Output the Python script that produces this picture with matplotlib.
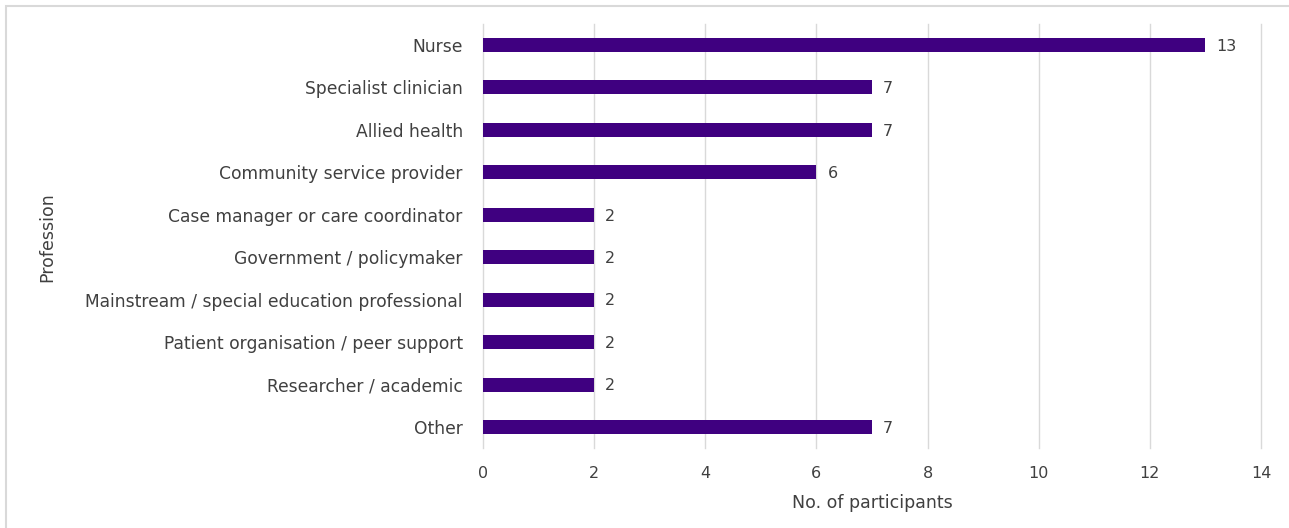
import matplotlib
matplotlib.use("Agg")
import matplotlib.pyplot as plt
from matplotlib.patches import Rectangle

professions = [
    "Nurse",
    "Specialist clinician",
    "Allied health",
    "Community service provider",
    "Case manager or care coordinator",
    "Government / policymaker",
    "Mainstream / special education professional",
    "Patient organisation / peer support",
    "Researcher / academic",
    "Other",
]
participants = [13, 7, 7, 6, 2, 2, 2, 2, 2, 7]
x_ticks = [0, 2, 4, 6, 8, 10, 12, 14]

plt.rcParams["font.family"] = ["DejaVu Sans"]
text_color = "#404040"
bar_color = "#3f0080"

fig = plt.figure(figsize=(12.89, 5.28), dpi=100)
ax = fig.add_axes([0.3747, 0.1511, 0.6036, 0.8038])

# outer frame (top and left edges visible)
fig.patches.append(Rectangle((6 / 1289, -0.1), 1.2, 1 - 6 / 528 + 0.1,
                             transform=fig.transFigure, fill=False,
                             edgecolor="#d9d9d9", linewidth=1.5))

ypos = list(range(len(professions)))
ax.barh(ypos, participants, height=0.33, color=bar_color, zorder=3)
for y, v in zip(ypos, participants):
    ax.text(v + 0.2, y + 0.03, str(v), va="center", ha="left", fontsize=11.5,
            color=text_color)

ax.set_xlim(0, 14)
ax.set_ylim(len(professions) - 0.5, -0.5)
ax.set_yticks(ypos)
ax.set_yticklabels(professions, fontsize=12.3, color=text_color)
ax.set_xticks(x_ticks)
ax.set_xticklabels([str(t) for t in x_ticks], fontsize=11.5, color=text_color)
ax.tick_params(axis="both", length=0)
ax.tick_params(axis="y", pad=14.5)
ax.tick_params(axis="x", pad=13)
ax.grid(axis="x", color="#d9d9d9", linewidth=1, zorder=0)
for gl in ax.get_xgridlines():
    gl.set_clip_on(False)
for s in ax.spines.values():
    s.set_visible(False)

ax.set_xlabel("No. of participants", fontsize=12.5, color=text_color, labelpad=9)
fig.text(47 / 1289, 1 - 237 / 528, "Profession", rotation=90, ha="center",
         va="center", fontsize=12.5, color=text_color)

fig.savefig("out.png", dpi=100, facecolor="white")
